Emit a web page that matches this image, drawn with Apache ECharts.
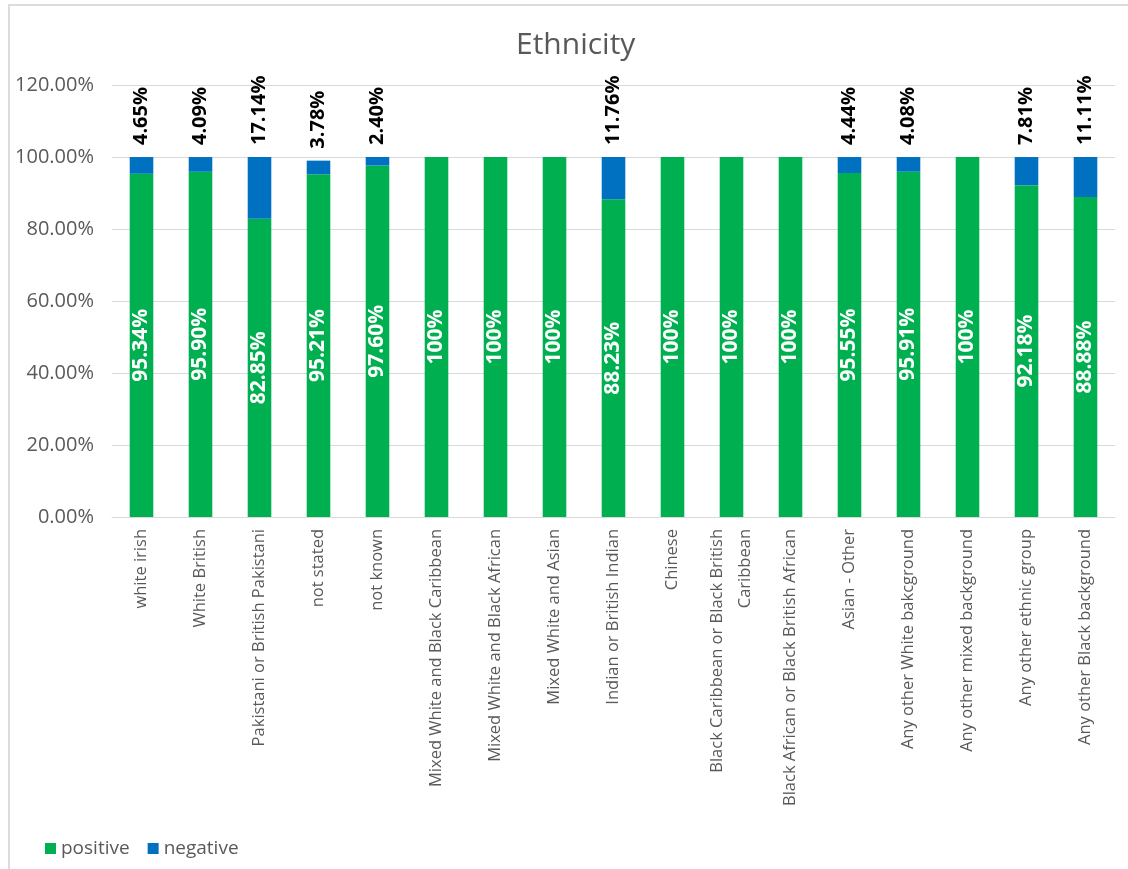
<!DOCTYPE html>
<html>
<head>
<meta charset="utf-8">
<script src="https://cdn.jsdelivr.net/npm/echarts@6/dist/echarts.min.js"></script>
<style>
html,body{margin:0;padding:0;background:#fff;overflow:hidden;}
#c{width:1128px;height:869px;}
#frame{position:absolute;left:8px;top:4px;width:1130px;height:880px;border-left:2px solid #dcdcdc;border-top:2px solid #dcdcdc;box-sizing:border-box;pointer-events:none;}
</style>
</head>
<body>
<div id="c"></div>
<div id="frame"></div>
<script>
const categories = [
  "white irish", "White British", "Pakistani or British Pakistani", "not stated", "not known",
  "Mixed White and Black Caribbean", "Mixed White and Black African", "Mixed White and Asian",
  "Indian or British Indian", "Chinese", "Black Caribbean or Black British\nCaribbean",
  "Black African or Black British African", "Asian - Other", "Any other White bakcground",
  "Any other mixed background", "Any other ethnic group", "Any other Black background"
];
const positive = [95.34, 95.90, 82.85, 95.21, 97.60, 100, 100, 100, 88.23, 100, 100, 100, 95.55, 95.91, 100, 92.18, 88.88];
const negative = [4.65, 4.09, 17.14, 3.78, 2.40, 0, 0, 0, 11.76, 0, 0, 0, 4.44, 4.08, 0, 7.81, 11.11];
const yTicks = [0, 20, 40, 60, 80, 100, 120];

const font = "'Open Sans', sans-serif";
const chart = echarts.init(document.getElementById('c'));
chart.setOption({
  animation: false,
  title: {
    text: 'Ethnicity', left: 511, top: 25,
    textStyle: { fontFamily: font, fontSize: 30, fontWeight: 'normal', color: '#595959' }
  },
  legend: {
    left: 40, top: 834, itemWidth: 11, itemHeight: 11, itemGap: 18,
    icon: 'rect',
    textStyle: { fontFamily: font, fontSize: 19, color: '#595959', padding: [0, 0, 0, 0] },
    data: ['positive', 'negative']
  },
  grid: { left: 112, right: 13, top: 85, height: 432 },
  xAxis: {
    type: 'category', data: categories,
    axisLine: { show: true, lineStyle: { color: '#d9d9d9' } },
    axisTick: { show: false },
    axisLabel: {
      rotate: 90, interval: 0, margin: 12,
      fontFamily: font, fontSize: 16.5, color: '#595959', lineHeight: 28
    }
  },
  yAxis: {
    type: 'value', min: yTicks[0], max: yTicks[yTicks.length - 1], interval: 20,
    axisLine: { show: false }, axisTick: { show: false },
    splitLine: { lineStyle: { color: '#d9d9d9' } },
    axisLabel: {
      fontFamily: font, fontSize: 20, color: '#595959', margin: 18,
      formatter: v => v.toFixed(2) + '%'
    }
  },
  series: [
    {
      name: 'positive', type: 'bar', stack: 'a', data: positive, barWidth: '40%',
      itemStyle: { color: '#00B050' },
      label: {
        show: true, position: 'inside', rotate: 90,
        fontFamily: font, fontSize: 21, fontWeight: 'bold', color: '#fff',
        formatter: p => (p.value === 100 ? '100' : p.value.toFixed(2)) + '%'
      }
    },
    {
      name: 'negative', type: 'bar', stack: 'a', data: negative, barWidth: '40%',
      itemStyle: { color: '#0070C0' },
      label: {
        show: true, position: 'top', rotate: 90, align: 'left', verticalAlign: 'middle',
        distance: 12,
        fontFamily: font, fontSize: 20, fontWeight: 'bold', color: '#000',
        formatter: p => p.value > 0 ? p.value.toFixed(2) + '%' : ''
      }
    }
  ]
});
</script>
</body>
</html>
